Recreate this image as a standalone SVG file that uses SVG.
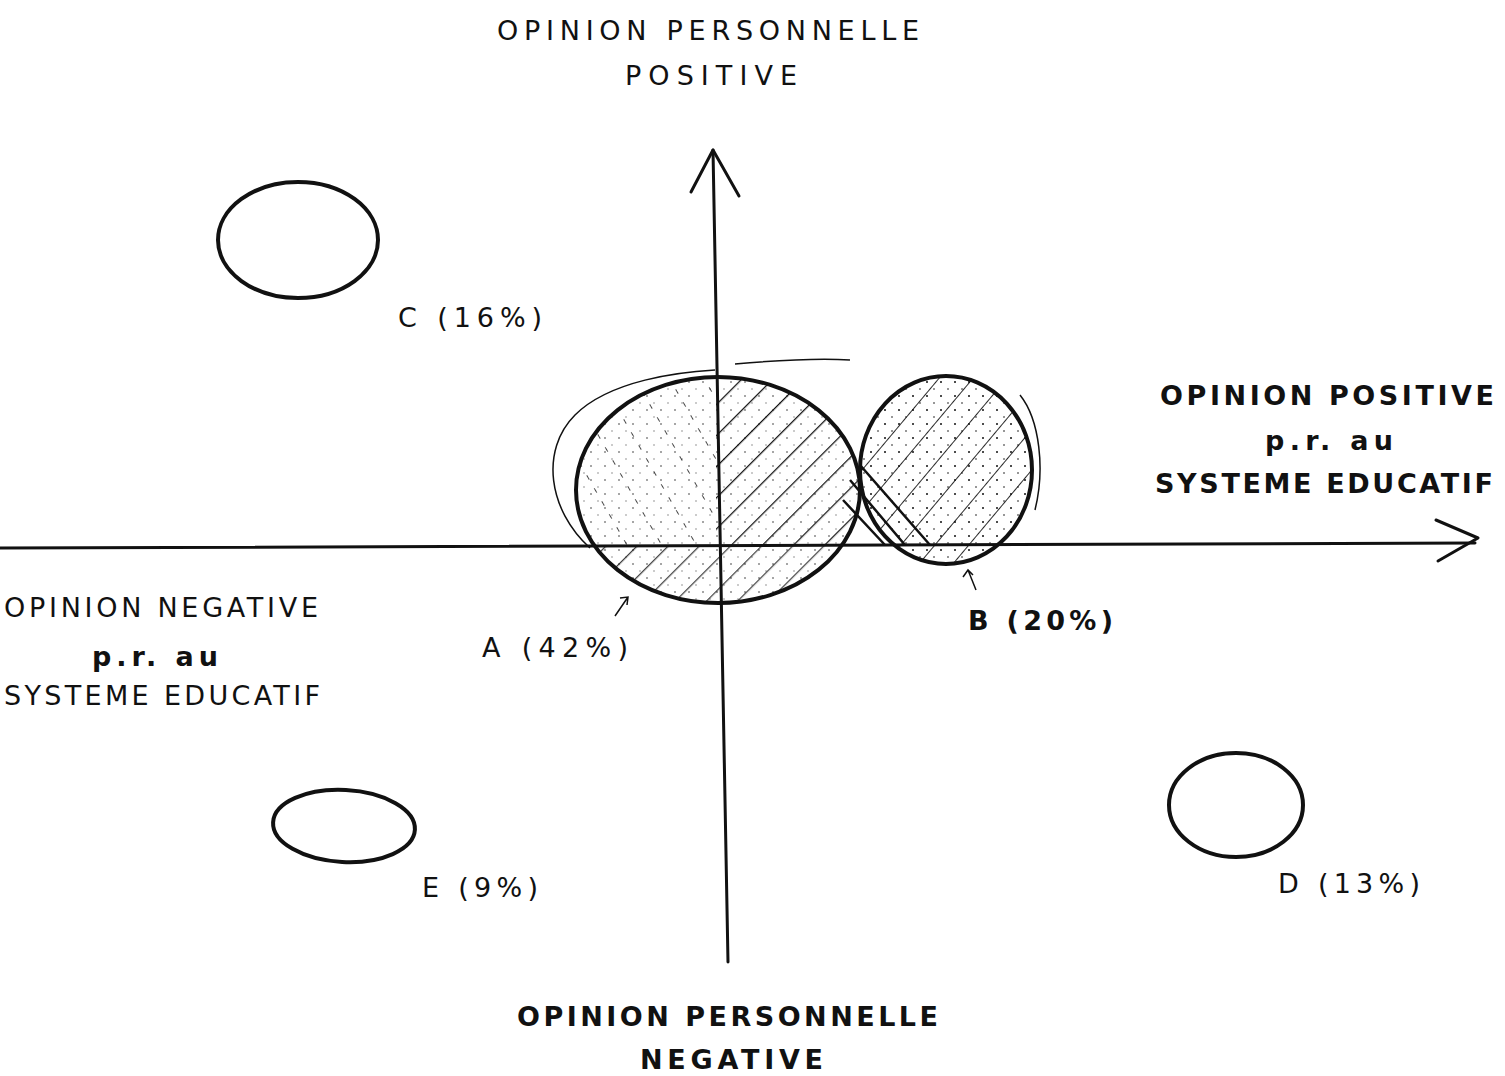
<svg xmlns="http://www.w3.org/2000/svg" width="1505" height="1076" viewBox="0 0 1505 1076">
<style>
.t{font-family:"DejaVu Sans","Liberation Sans",sans-serif;font-size:27px;fill:#111;letter-spacing:2px}
.b{font-weight:bold}
.ax{stroke:#111;stroke-width:3;fill:none;stroke-linecap:round;stroke-linejoin:round}
.el{stroke:#111;stroke-width:4;fill:none}
.th{stroke:#111;stroke-width:1.5;fill:none}
.h{stroke:#111;stroke-width:2.5;fill:none}
</style>
<defs>
<clipPath id="cA"><ellipse cx="718" cy="490" rx="142" ry="113"/></clipPath>
<clipPath id="cB"><ellipse cx="946" cy="470" rx="86" ry="94"/></clipPath>
<pattern id="hatch" width="22" height="22" patternUnits="userSpaceOnUse" patternTransform="rotate(45)">
<line x1="0" y1="0" x2="0" y2="22" stroke="#111" stroke-width="2.5"/>
</pattern>
<pattern id="hatchB" width="26" height="26" patternUnits="userSpaceOnUse" patternTransform="rotate(40)">
<line x1="0" y1="0" x2="0" y2="26" stroke="#111" stroke-width="1.8"/>
</pattern>
<pattern id="dash" width="30" height="30" patternUnits="userSpaceOnUse" patternTransform="rotate(-30)">
<line x1="0" y1="0" x2="0" y2="30" stroke="#111" stroke-width="1.5" stroke-dasharray="5 10"/>
</pattern>
<pattern id="dots" width="14" height="14" patternUnits="userSpaceOnUse">
<circle cx="3" cy="4" r="1" fill="#111"/><circle cx="10" cy="11" r="0.8" fill="#111"/>
</pattern>
</defs>

<g id="connectors">
<path class="ax" d="M713 150 L728 962"/>
<path class="ax" d="M691 192 L713 150 L739 196"/>
<path class="ax" d="M0 548 L1475 543"/>
<path class="ax" d="M1436 520 L1478 538 L1438 561"/>
<path class="th" d="M628 597 L615 616 M620 598 L628 597 L627 605"/>
<path class="th" d="M968 570 L976 590 M963 577 L968 570 L973 575"/>
</g>

<g id="nodeC">
<ellipse class="el" cx="298" cy="240" rx="80" ry="58"/>
<text class="t" x="398" y="327" textLength="146">C (16%)</text>
</g>

<g id="nodeE">
<ellipse class="el" cx="344" cy="826" rx="71" ry="36" transform="rotate(3 344 826)"/>
<text class="t" x="422" y="897" textLength="118">E (9%)</text>
</g>

<g id="nodeD">
<ellipse class="el" cx="1236" cy="805" rx="67" ry="52"/>
<text class="t" x="1278" y="893" textLength="144">D (13%)</text>
</g>

<g id="nodeA">
<path class="th" d="M590 548 C548 510 540 450 575 415 C610 380 680 372 715 370 M735 364 C780 360 820 358 850 360"/>
<g clip-path="url(#cA)">
<rect x="716" y="370" width="150" height="175" fill="url(#hatch)"/>
<rect x="576" y="370" width="140" height="175" fill="url(#dash)"/>
<rect x="576" y="545" width="290" height="60" fill="url(#hatch)" opacity="0.8"/>
<rect x="576" y="370" width="290" height="235" fill="url(#dots)" opacity="0.5"/>
</g>
<ellipse class="el" cx="718" cy="490" rx="142" ry="113"/>
<text class="t" x="482" y="657" textLength="148">A (42%)</text>
</g>

<g id="nodeB">
<g clip-path="url(#cB)">
<rect x="860" y="375" width="175" height="195" fill="url(#hatchB)"/>
<rect x="860" y="375" width="175" height="195" fill="url(#dots)"/>
</g>
<path class="h" d="M850 480 L905 545 M843 500 L885 545 M860 465 L930 545"/>
<path class="th" d="M1020 395 C1040 420 1045 470 1035 510"/>
<ellipse class="el" cx="946" cy="470" rx="86" ry="94"/>
<text class="t b" x="968" y="630" textLength="147">B (20%)</text>
</g>

<g id="labels">
<text class="t" x="497" y="40" textLength="424">OPINION PERSONNELLE</text>
<text class="t" x="625" y="85" textLength="174">POSITIVE</text>
<text class="t b" x="517" y="1026" textLength="423">OPINION PERSONNELLE</text>
<text class="t b" x="640" y="1069" textLength="185">NEGATIVE</text>
<text class="t b" x="1160" y="405" textLength="336">OPINION POSITIVE</text>
<text class="t b" x="1265" y="450" textLength="130">p.r. au</text>
<text class="t b" x="1155" y="493" textLength="340">SYSTEME EDUCATIF</text>
<text class="t" x="4" y="617" textLength="316">OPINION NEGATIVE</text>
<text class="t b" x="92" y="666" textLength="128">p.r. au</text>
<text class="t" x="4" y="705" textLength="318">SYSTEME EDUCATIF</text>
</g>
</svg>
